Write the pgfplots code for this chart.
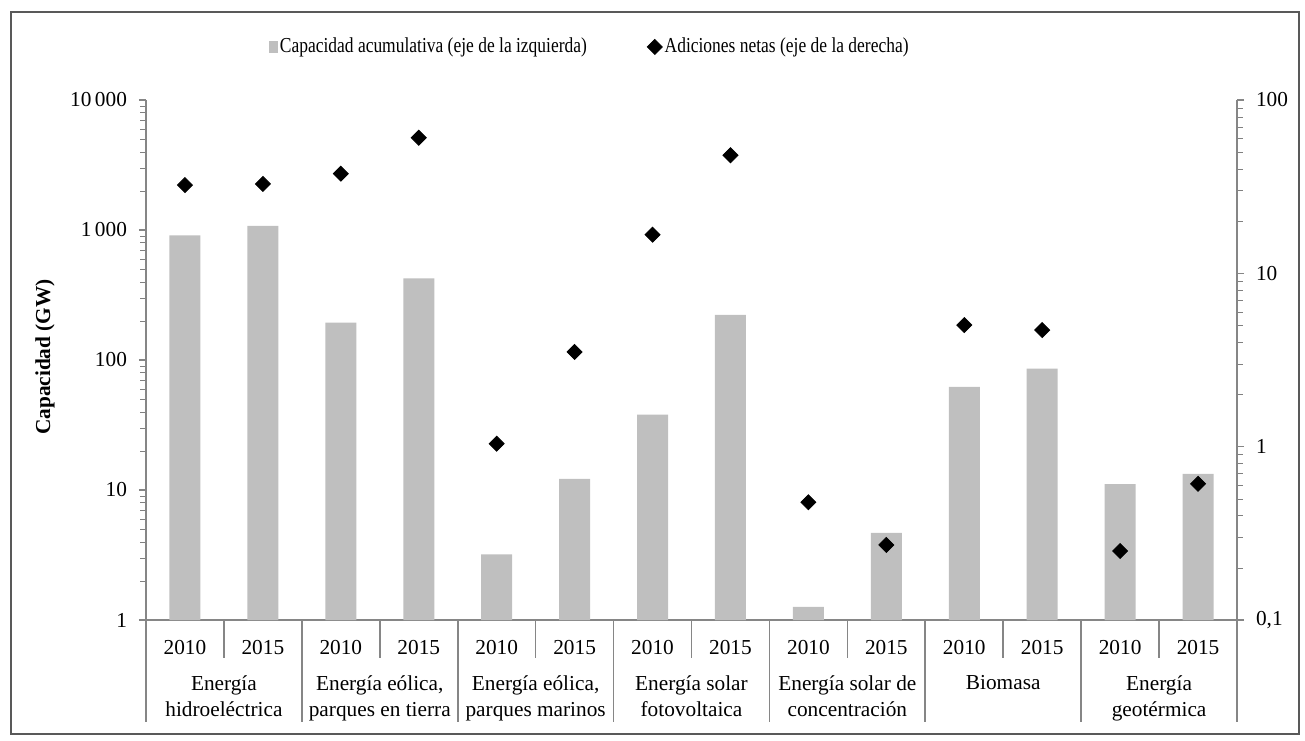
\documentclass[border=0pt]{standalone}
\usepackage{fontspec}
\setmainfont{Liberation Serif}
\newfontfamily\legendfont[FakeStretch=0.82]{Liberation Serif}
\usepackage{pgfplots}
\pgfplotsset{compat=1.18}
\definecolor{barfill}{RGB}{191,191,191}
\definecolor{axisgray}{RGB}{134,134,134}
\definecolor{framegray}{RGB}{89,89,89}
\newcommand{\fs}{\fontsize{10.65}{13.3}\selectfont}
\begin{document}
\begin{tikzpicture}
\useasboundingbox (-73pt,-60pt) rectangle (579.5pt,310pt);
\draw[framegray, line width=0.7pt] (-67.5pt,-57pt) rectangle (576.5pt,304pt);
\begin{axis}[
  at={(0,0)}, anchor=south west, scale only axis,
  width=545.5pt, height=260pt,
  xmin=-0.5, xmax=13.5, ymin=1, ymax=10000, ymode=log,
  axis x line*=bottom, axis y line*=left,
  axis line style={-, draw=axisgray, line width=0.8pt},
  xtick={0,...,13},
  xticklabels={2010,2015,2010,2015,2010,2015,2010,2015,2010,2015,2010,2015,2010,2015},
  major x tick style={draw=none},
  ytick={1,10,100,1000,10000},
  yticklabels={1,10,100,1\,000,10\,000},
  minor ytick={},
  major y tick style={draw=axisgray, line width=0.8pt},
  tick align=outside, major tick length=3.5pt,
  tick label style={font=\fs},
  xticklabel style={yshift=-3pt},
  yticklabel style={xshift=-2.5pt},
  clip=false,
]
\addplot[ybar, bar width=15.5pt, fill=barfill, draw=none] coordinates {
 (0,910) (1,1074) (2,194) (3,425) (4,3.2) (5,12.2) (6,38) (7,222)
 (8,1.26) (9,4.67) (10,62) (11,86) (12,11.1) (13,13.3)};
\pgfplotsinvokeforeach{-0.5,1.5,3.5,5.5,7.5,9.5,11.5,13.5}{
  \draw[axisgray, line width=0.8pt] (axis cs:#1,1) -- ++(0pt,-51pt);
}
\pgfplotsinvokeforeach{0.5,2.5,4.5,6.5,8.5,10.5,12.5}{
  \draw[axisgray, line width=0.8pt] (axis cs:#1,1) -- ++(0pt,-19pt);
}
\node[anchor=north, yshift=-27.5pt, align=center, font=\fs, inner sep=0pt] at (axis cs:0.5,1) {Energía\\hidroeléctrica};
\node[anchor=north, yshift=-27.5pt, align=center, font=\fs, inner sep=0pt] at (axis cs:2.5,1) {Energía eólica,\\parques en tierra};
\node[anchor=north, yshift=-27.5pt, align=center, font=\fs, inner sep=0pt] at (axis cs:4.5,1) {Energía eólica,\\parques marinos};
\node[anchor=north, yshift=-27.5pt, align=center, font=\fs, inner sep=0pt] at (axis cs:6.5,1) {Energía solar\\fotovoltaica};
\node[anchor=north, yshift=-27.5pt, align=center, font=\fs, inner sep=0pt] at (axis cs:8.5,1) {Energía solar de\\concentración};
\node[anchor=north, yshift=-27.5pt, align=center, font=\fs, inner sep=0pt] at (axis cs:10.5,1) {Biomasa};
\node[anchor=north, yshift=-27.5pt, align=center, font=\fs, inner sep=0pt] at (axis cs:12.5,1) {Energía\\geotérmica};
\end{axis}
\node[rotate=90, font=\fs\bfseries] at (-50.5pt,131.5pt) {Capacidad (GW)};
\begin{axis}[
  at={(0,0)}, anchor=south west, scale only axis,
  width=545.5pt, height=260pt,
  xmin=-0.5, xmax=13.5, ymin=0.1, ymax=100, ymode=log,
  axis y line*=right, axis x line=none,
  axis line style={-, draw=axisgray, line width=0.8pt},
  ytick={0.1,1,10,100},
  yticklabels={{0,1},1,10,100},
  minor ytick={},
  major y tick style={draw=axisgray, line width=0.8pt},
  tick align=outside, major tick length=3.5pt,
  tick label style={font=\fs},
  yticklabel style={xshift=2.5pt},
  clip=false,
  legend columns=2,
  legend style={draw=none, fill=none, at={(0.107,1.102)}, anchor=west,
    font=\legendfont\fontsize{10.65}{12}\selectfont,
    nodes={inner xsep=1.2pt},
    /tikz/every even column/.append style={column sep=29pt}},
]
\addlegendimage{legend image code/.code={\fill[barfill] (0pt,-2.6pt) rectangle (3.8pt,2.6pt);}}
\addlegendentry{Capacidad acumulativa (eje de la izquierda)}
\addplot[only marks, mark=square*, mark size=2.65pt, mark options={rotate=45, fill=black, draw=black}] coordinates {
 (0,32.3) (1,32.8) (2,37.6) (3,60.6) (4,1.04) (5,3.52) (6,16.7) (7,48)
 (8,0.478) (9,0.271) (10,5.03) (11,4.71) (12,0.25) (13,0.611)};
\addlegendentry{Adiciones netas (eje de la derecha)}
\end{axis}
\end{tikzpicture}
\end{document}
